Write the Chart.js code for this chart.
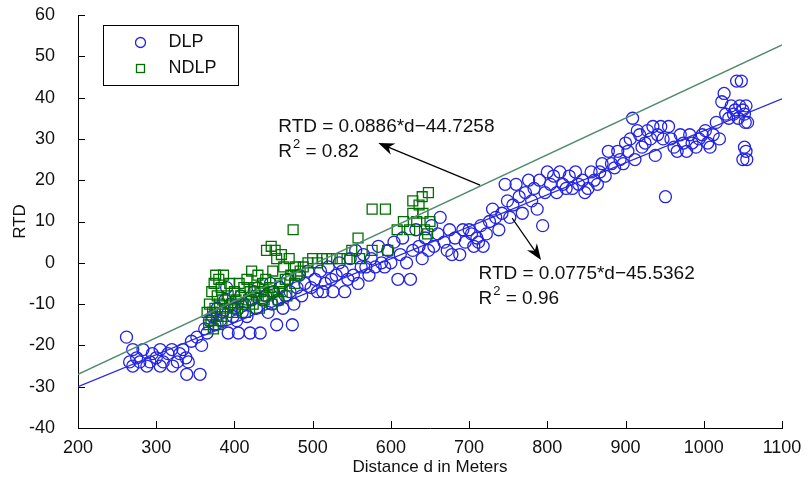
<!DOCTYPE html>
<html>
<head>
<meta charset="utf-8">
<script src="https://cdn.jsdelivr.net/npm/chart.js@4.4.1/dist/chart.umd.min.js"></script>
<style>
  html, body { margin: 0; padding: 0; background: #fff; }
</style>
</head>
<body>
<canvas id="myChart" width="809" height="482"></canvas>
<script>
// DLP measurements (distance in meters, RTD)
var dlpDistance = [
    262, 266, 270, 270, 275, 279, 283, 288, 292, 295, 300,
    305, 305, 309, 315, 320, 321, 327, 330, 334, 338, 339, 341, 345,
    352, 356, 358, 362, 365, 368, 372, 375, 378, 382, 385, 388, 390, 392, 395, 398, 400, 403, 405,
    408, 410, 413, 416, 420, 422, 425, 428, 430, 433, 436, 440, 443, 446, 448, 450,
    454, 456, 458, 462, 465, 468, 471, 474, 476, 480, 483, 486, 490, 494, 498,
    503, 506, 510, 513, 516, 520, 524, 526, 530, 534, 538, 541, 545, 548,
    552, 555, 558, 562, 565, 568, 572, 575, 580, 584, 588, 592, 596,
    600, 604, 609, 612, 615, 620, 625, 628, 632, 636, 640, 644, 648,
    652, 655, 660, 663, 668, 672, 675, 678, 682, 688, 692, 695, 700,
    703, 706, 710, 712, 715, 718, 722, 726, 730, 734, 738, 742, 746, 749,
    752, 756, 760, 764, 768, 772, 776, 780, 783, 787, 790, 794, 797,
    800, 804, 808, 812, 816, 820, 824, 828, 832, 836, 840, 845, 848,
    852, 856, 860, 864, 867, 870, 874, 878, 882, 886, 890, 893, 897,
    900, 903, 906, 909, 912, 915, 918, 921, 925, 928, 932, 935, 938, 941, 945, 948, 951,
    955, 958, 962, 966, 970, 974, 978, 982, 985, 990, 994, 998,
    1002, 1005, 1008, 1012, 1016, 1020, 1023, 1026, 1028, 1032, 1035, 1038, 1040,
    1042, 1044, 1046, 1048, 1050, 1052, 1053, 1054, 1052, 1054, 1050, 1055, 1056
];
var dlpRtd = [
    -18, -24, -21, -25, -23, -24, -21, -25, -24, -22, -23,
    -21, -25, -24, -22, -21, -25, -24, -22, -21, -23, -27, -24, -19,
    -18, -27, -20, -16, -17, -14, -13, -15, -11, -14, -12, -9, -6, -17, -10, -13, -11, -14, -17,
    -8, -12, -10, -13, -17, -9, -7, -11, -6, -17, -9, -8, -12, -5, -10, -7,
    -15, -9, -6, -11, -8, -4, -7, -15, -10, -6, -3, -8, -5, -2, -6,
    -4, -7, -2, -7, -5, -1, -4, -7, -3, 0, -2, -7, -4, 1,
    -3, 3, -5, -1, 2, -1, -3, 1, -1, 4, 0, -1, 3,
    0, 5, -4, 2, 6, 0, -4, 3, 8, 4, 1, 6, 3,
    9, 4, 7, 11, 5, 3, 8, 2, 6, 2, 8, 5, 8,
    7, 4, 6, 5, 9, 4, 7, 10, 13, 11, 8, 12, 19, 15,
    11, 14, 19, 16, 12, 17, 20, 15, 18, 13, 20, 9, 17,
    22, 19, 21, 17, 22, 19, 18, 21, 18, 22, 19, 20, 17,
    18, 22, 20, 19, 22, 24, 21, 27, 24, 23, 27, 25, 24,
    29, 27, 30, 35, 25, 32, 31, 28, 29, 32, 30, 33, 26, 31, 33, 30, 16,
    33, 30, 28, 27, 31, 29, 27, 31, 29, 28, 30, 31,
    32, 29, 28, 31, 34, 30, 39, 41, 36, 35, 38, 36, 37,
    44, 35, 38, 44, 37, 36, 34, 38, 28, 27, 25, 25, 34
];

// NDLP measurements
var ndlpDistance = [
    365, 367, 368, 370, 371, 372, 373, 374, 375, 376, 377, 378, 379, 380, 381, 382, 383, 384, 385, 386,
    388, 390, 392, 394, 396, 398, 400, 402, 404, 406, 408, 410, 412, 414, 416, 418, 420, 422, 424, 426,
    428, 430, 432, 434, 436, 438, 440, 441, 443, 445, 447, 448, 449, 450, 452, 454, 456, 458, 460, 461,
    463, 465, 467, 470, 472, 475, 477, 478, 480, 484, 488, 494, 500, 506, 512, 518, 525, 535, 544, 550,
    558, 560, 576, 576, 593, 596, 608, 616, 624, 628, 628, 633, 636, 640, 641, 643, 648, 650, 647
];
var ndlpRtd = [
    -12, -15, -10, -14, -7, -12, -16, -5, -11, -3, -13, -8, -15, -4, -10, -12, -6, -14, -9, -3,
    -11, -13, -8, -5, -10, -12, -7, -9, -11, -5, -8, -10, -6, -12, -4, -9, -7, -2, -10, -6,
    -8, -3, -11, -7, -5, -9, -4, 3, -8, -6, 4, -10, -2, -7, 3, 1, -9, -5, 2, -7,
    -1, -4, -8, 1, -3, 8, -5, -1, -3, -2, -1, 0, 1, 0, 1, 1, 1, 1, 1, 3,
    6, 1, 13, 3, 13, 3, 8, 10, 8, 12, 15, 10, 14, 16, 12, 8, 17, 10, 7
];

// fitted lines, end points at d = 200 and d = 1100
var fitDistance = [200, 1100];
var fitNdlp = [-27.0, 52.75];
var fitDlp = [-30.0, 39.7];

var xTicks = [200, 1100, 100];
var yTicks = [-40, 60, 10];

function pairs(xs, ys) {
    return xs.map(function (x, i) { return { x: x, y: ys[i] }; });
}

var FONT = '"Liberation Sans", Arial, sans-serif';

// inward tick marks, legend box, regression notes and arrows
var notes = {
    id: 'notes',
    afterDraw: function (chart) {
        var ctx = chart.ctx;
        var sx = chart.scales.x, sy = chart.scales.y;
        var area = chart.chartArea;
        ctx.save();

        // tick marks pointing into the plot
        ctx.strokeStyle = '#000';
        ctx.lineWidth = 1;
        ctx.beginPath();
        sx.ticks.forEach(function (t) {
            var px = Math.round(sx.getPixelForValue(t.value)) + 0.5;
            ctx.moveTo(px, area.bottom);
            ctx.lineTo(px, area.bottom - 7);
        });
        sy.ticks.forEach(function (t) {
            var py = Math.round(sy.getPixelForValue(t.value)) + 0.5;
            ctx.moveTo(area.left, py);
            ctx.lineTo(area.left + 7, py);
        });
        ctx.stroke();

        // legend
        var lx = area.left + 25.5, ly = 25.5;
        ctx.fillStyle = '#fff';
        ctx.fillRect(lx, ly, 135, 60);
        ctx.strokeStyle = '#000';
        ctx.lineWidth = 1;
        ctx.strokeRect(lx, ly, 135, 60);
        ctx.strokeStyle = 'rgb(35,35,230)';
        ctx.lineWidth = 1.3;
        ctx.beginPath();
        ctx.arc(lx + 37, ly + 17, 5, 0, Math.PI * 2);
        ctx.stroke();
        ctx.strokeStyle = 'rgb(0,110,0)';
        ctx.strokeRect(lx + 33, ly + 39, 8, 8);
        ctx.fillStyle = '#111';
        ctx.font = '18px ' + FONT;
        ctx.textBaseline = 'middle';
        ctx.textAlign = 'left';
        ctx.fillText('DLP', lx + 65, ly + 17);
        ctx.fillText('NDLP', lx + 65, ly + 43);

        // arrows
        function arrow(d0, v0, d1, v1) {
            var x0 = sx.getPixelForValue(d0), y0 = sy.getPixelForValue(v0);
            var x1 = sx.getPixelForValue(d1), y1 = sy.getPixelForValue(v1);
            var a = Math.atan2(y1 - y0, x1 - x0);
            ctx.strokeStyle = '#000';
            ctx.fillStyle = '#000';
            ctx.lineWidth = 1.2;
            ctx.beginPath();
            ctx.moveTo(x0, y0);
            ctx.lineTo(x1 - 10 * Math.cos(a), y1 - 10 * Math.sin(a));
            ctx.stroke();
            ctx.beginPath();
            ctx.moveTo(x1, y1);
            ctx.lineTo(x1 - 16 * Math.cos(a) + 6 * Math.sin(a), y1 - 16 * Math.sin(a) - 6 * Math.cos(a));
            ctx.lineTo(x1 - 11 * Math.cos(a), y1 - 11 * Math.sin(a));
            ctx.lineTo(x1 - 16 * Math.cos(a) - 6 * Math.sin(a), y1 - 16 * Math.sin(a) + 6 * Math.cos(a));
            ctx.closePath();
            ctx.fill();
        }
        arrow(714, 18.8, 584, 29);
        arrow(755, 10.8, 792, 0.7);

        // equations
        function note(d, v, eq, r2) {
            var x = sx.getPixelForValue(d), y = sy.getPixelForValue(v);
            ctx.fillStyle = '#111';
            ctx.textBaseline = 'middle';
            ctx.font = '19px ' + FONT;
            ctx.fillText(eq, x, y);
            var y2 = y + 25;
            ctx.fillText('R', x, y2);
            var w = ctx.measureText('R').width;
            ctx.font = '13px ' + FONT;
            ctx.fillText('2', x + w + 1, y2 - 8);
            var w2 = ctx.measureText('2').width;
            ctx.font = '19px ' + FONT;
            ctx.fillText(' = ' + r2, x + w + w2 + 1, y2);
        }
        note(456, 32.9, 'RTD = 0.0886*d\u221244.7258', '0.82');
        note(712, -2.7, 'RTD = 0.0775*d\u221245.5362', '0.96');

        ctx.restore();
    }
};

var ctx = document.getElementById('myChart').getContext('2d');
var myChart = new Chart(ctx, {
    type: 'scatter',
    data: {
        datasets: [{
            label: 'DLP fit',
            type: 'line',
            data: pairs(fitDistance, fitDlp),
            borderColor: 'rgb(40,40,220)',
            borderWidth: 1.3,
            pointRadius: 0,
            order: 0
        }, {
            label: 'NDLP fit',
            type: 'line',
            data: pairs(fitDistance, fitNdlp),
            borderColor: 'rgb(80,140,110)',
            borderWidth: 1.3,
            pointRadius: 0,
            order: 0
        }, {
            label: 'NDLP',
            data: pairs(ndlpDistance, ndlpRtd),
            pointStyle: 'rect',
            pointRadius: 7,
            borderColor: 'rgb(0,110,0)',
            backgroundColor: 'rgba(0,0,0,0)',
            borderWidth: 1.3,
            order: 1
        }, {
            label: 'DLP',
            data: pairs(dlpDistance, dlpRtd),
            pointStyle: 'circle',
            pointRadius: 6,
            borderColor: 'rgb(35,35,230)',
            backgroundColor: 'rgba(0,0,0,0)',
            borderWidth: 1.3,
            order: 2
        }]
    },
    options: {
        responsive: false,
        animation: false,
        layout: { padding: { left: 0, right: 27, top: 15, bottom: 0 } },
        plugins: {
            legend: { display: false },
            tooltip: { enabled: false }
        },
        scales: {
            x: {
                type: 'linear',
                min: xTicks[0],
                max: xTicks[1],
                afterFit: function (s) { s.height = 54; s.paddingLeft = 0; s.paddingRight = 0; },
                ticks: { stepSize: xTicks[2], color: '#111', padding: 1, maxRotation: 0,
                         font: { family: FONT, size: 18 },
                         callback: function (v) { return String(v); } },
                grid: { display: false },
                border: { display: true, color: '#000', width: 1 },
                title: { display: true, text: 'Distance d in Meters', color: '#111',
                         font: { family: FONT, size: 17 }, padding: { top: 0, bottom: 4 } }
            },
            y: {
                type: 'linear',
                min: yTicks[0],
                max: yTicks[1],
                afterFit: function (s) { s.width = 78; s.paddingTop = 0; s.paddingBottom = 0; },
                ticks: { stepSize: yTicks[2], color: '#111', padding: 15,
                         font: { family: FONT, size: 18 },
                         callback: function (v) { return String(v); } },
                grid: { display: false },
                border: { display: true, color: '#000', width: 1 },
                title: { display: true, text: 'RTD', color: '#111',
                         font: { family: FONT, size: 17 }, padding: { top: 10, bottom: 0 } }
            }
        }
    },
    plugins: [notes]
});
</script>
</body>
</html>
